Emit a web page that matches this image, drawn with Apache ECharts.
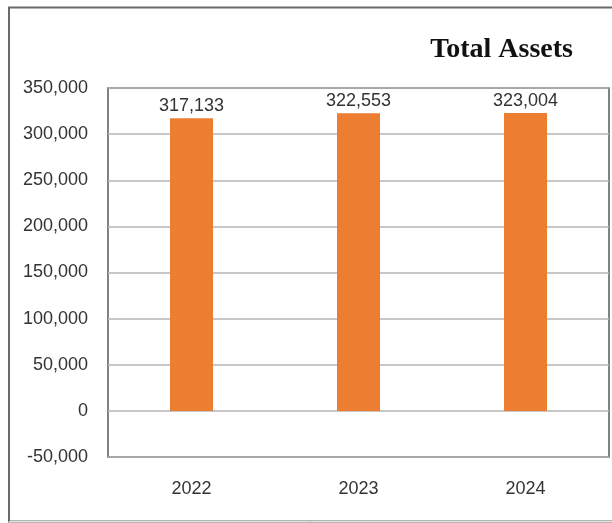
<!DOCTYPE html>
<html>
<head>
<meta charset="utf-8">
<script src="https://cdn.jsdelivr.net/npm/echarts@6/dist/echarts.min.js"></script>
<style>html,body{margin:0;padding:0;background:#fff;}#c{width:612px;height:523px;}</style>
</head>
<body>
<div id="c"></div>
<script>
var categories = ['2022', '2023', '2024'];
var totalAssets = [317133, 322553, 323004];
var yTicks = { min: -50000, max: 350000, interval: 50000 };
var titleText = 'Total Assets';

var chart = echarts.init(document.getElementById('c'), null, { renderer: 'canvas' });
chart.setOption({
  animation: false,
  backgroundColor: '#ffffff',
  title: {
    text: titleText,
    right: 34,
    top: 31,
    textStyle: { fontFamily: 'Liberation Serif', fontWeight: 'bold', fontSize: 28, color: '#111' }
  },
  graphic: [{
    type: 'rect',
    shape: { x: 9, y: 7.5, width: 620, height: 514 },
    style: { fill: 'none', stroke: '#6a6a6a', lineWidth: 2 },
    silent: true, z: 100
  }, {
    type: 'line',
    shape: { x1: 9, y1: 521.5, x2: 612, y2: 521.5 },
    style: { stroke: '#e4e4e4', lineWidth: 1 },
    silent: true, z: 100
  }],
  grid: { left: 108, top: 88, right: 3, bottom: 66, containLabel: false, show: true, borderColor: '#5a5a5a', borderWidth: 1.5 },
  xAxis: {
    type: 'category',
    data: categories,
    axisLine: { show: false },
    axisTick: { show: false },
    axisLabel: { color: '#333333', fontFamily: 'Liberation Sans', fontSize: 18, margin: 23 }
  },
  yAxis: {
    type: 'value',
    min: yTicks.min, max: yTicks.max, interval: yTicks.interval,
    axisLine: { show: false },
    axisTick: { show: false },
    splitLine: { lineStyle: { color: '#b4b4b4', width: 1.5 } },
    axisLabel: {
      color: '#333333', fontFamily: 'Liberation Sans', fontSize: 18, margin: 20,
      formatter: function (v) { return v.toLocaleString('en-US'); }
    }
  },
  series: [{
    type: 'bar',
    data: totalAssets,
    barWidth: 43,
    itemStyle: { color: '#ED7D31' },
    label: {
      show: true, position: 'top', distance: 3,
      color: '#333333', fontFamily: 'Liberation Sans', fontSize: 18,
      formatter: function (p) { return p.value.toLocaleString('en-US'); }
    }
  }]
});
</script>
</body>
</html>
